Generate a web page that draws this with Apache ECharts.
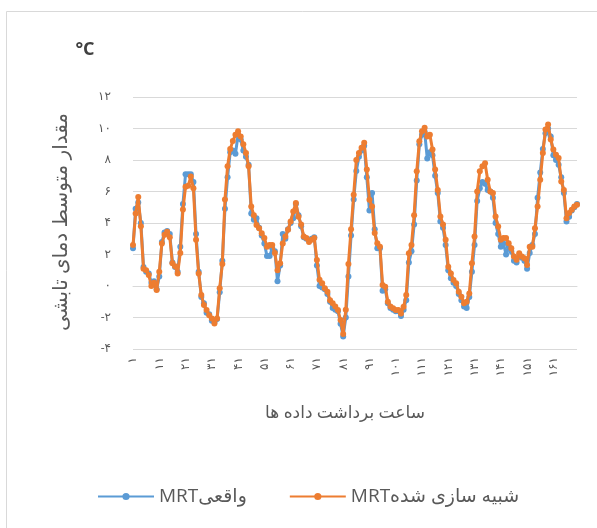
<!DOCTYPE html>
<html>
<head>
<meta charset="utf-8">
<script src="https://cdn.jsdelivr.net/npm/echarts@6/dist/echarts.min.js"></script>
<style>
html,body{margin:0;padding:0;background:#fff;}
#chart{width:597px;height:528px;}
</style>
</head>
<body>
<div id="chart"></div>
<script>
// ---- data ----
function toFa(v) {
  var s = String(v);
  var neg = s.charAt(0) === '-';
  if (neg) s = s.slice(1);
  s = s.replace(/\d/g, function (d) { return '۰۱۲۳۴۵۶۷۸۹'[+d]; });
  return (neg ? '-' : '') + s;
}

var categories = [];
for (var k = 1; k <= 170; k++) categories.push(toFa(k));
var xLabelEvery = 10;

var seriesNames = ['MRTواقعی', 'MRTشبیه سازی شده'];

var actualMRT = [
  2.4, 4.9, 5.3, 4.0, 1.2, 0.9, 0.8, 0.2, 0.3, -0.2,
  0.6, 2.8, 3.4, 3.5, 3.3, 1.5, 1.2, 0.9, 2.5, 5.2,
  7.1, 7.1, 7.1, 6.6, 3.3, 0.9, -0.7, -1.1, -1.7, -1.8,
  -2.2, -2.3, -2.1, -0.4, 1.6, 4.9, 6.9, 8.5, 8.6, 8.4,
  9.6, 9.3, 8.6, 8.2, 7.7, 4.6, 4.2, 4.3, 3.7, 3.2,
  2.7, 1.9, 1.9, 2.4, 2.2, 0.3, 1.3, 3.3, 3.0, 3.6,
  4.0, 4.3, 5.2, 4.5, 3.8, 3.1, 3.0, 2.9, 3.0, 3.1,
  1.3, 0.0, -0.1, -0.2, -0.5, -1.0, -1.4, -1.5, -1.6, -2.4,
  -3.2, -2.0, 0.6, 3.2, 5.5, 7.3, 8.2, 8.6, 8.9, 6.9,
  4.8, 5.9, 3.6, 2.4, 2.4, -0.3, -0.2, -1.1, -1.4, -1.5,
  -1.6, -1.6, -1.9, -1.5, -0.9, 1.5, 2.2, 3.9, 6.7, 9.0,
  9.6, 9.8, 8.1, 8.5, 8.3, 7.0, 5.9, 4.1, 3.7, 2.6,
  1.0, 0.5, 0.2, 0.0, -0.5, -0.9, -1.3, -1.4, -0.7, 0.9,
  2.6, 5.4, 6.2, 6.6, 6.5, 6.1, 6.0, 5.6, 4.0, 3.3,
  2.5, 2.7, 2.0, 2.5, 2.2, 1.6, 1.5, 1.9, 1.8, 1.6,
  1.1, 2.1, 2.6, 3.3, 5.6, 7.2, 8.7, 9.7, 10.0, 9.5,
  8.3, 8.0, 7.7, 6.9, 5.9, 4.1, 4.4, 4.8, 5.0, 5.2
];

var simulatedMRT = [
  2.6, 4.6, 5.65, 3.8, 1.1, 1.0, 0.7, 0.0, 0.2, -0.25,
  0.9, 2.7, 3.25, 3.45, 3.1, 1.45, 1.25, 0.8, 2.1, 4.85,
  6.3, 6.36, 6.95, 6.2, 2.93, 0.8, -0.57, -1.2, -1.53, -1.85,
  -2.06, -2.38, -2.06, -0.14, 1.4, 5.5, 7.6, 8.7, 9.2, 9.6,
  9.83, 9.5, 9.0, 8.45, 7.6, 5.05, 4.5, 3.88, 3.67, 3.35,
  3.04, 2.5, 2.6, 2.6, 2.1, 1.0, 1.44, 2.7, 3.14, 3.57,
  4.1, 4.73, 5.27, 4.4, 3.9, 3.14, 3.04, 2.8, 2.93, 3.04,
  1.65, 0.4, 0.17, -0.15, -0.36, -0.9, -1.1, -1.3, -1.53, -2.16,
  -3.05, -1.5, 1.4, 3.6, 5.8, 8.0, 8.45, 8.77, 9.09, 7.39,
  5.48, 5.05, 3.36, 2.72, 2.5, 0.06, -0.04, -1.0, -1.3, -1.42,
  -1.53, -1.53, -1.74, -1.32, -0.57, 2.08, 2.6, 4.5, 7.28, 9.19,
  9.83, 10.04, 9.5, 9.6, 8.66, 7.39, 6.1, 4.41, 3.9, 2.93,
  1.23, 0.8, 0.38, 0.17, -0.36, -0.68, -1.1, -1.0, -0.47, 1.45,
  3.14, 6.0, 7.28, 7.6, 7.8, 6.75, 6.0, 5.9, 4.41, 3.78,
  2.93, 3.04, 3.04, 2.72, 2.4, 1.87, 1.66, 2.08, 1.87, 1.76,
  1.34, 2.5, 2.5, 3.67, 5.05, 6.75, 8.45, 9.94, 10.25, 9.3,
  8.66, 8.34, 8.13, 6.64, 6.1, 4.3, 4.63, 4.84, 5.05, 5.16
];

var yTicks = { min: -4, max: 12, step: 2 };
var unitLabel = '°C';
var yAxisTitle = 'مقدار متوسط دمای تابشی';
var xAxisTitle = 'ساعت برداشت داده ها';

var FONT = '"Open Sans","DejaVu Sans",sans-serif';
var TXT = '#595959';
var BLUE = '#5B9BD5';
var ORANGE = '#ED7D31';

var chart = echarts.init(document.getElementById('chart'), null, { renderer: 'canvas' });

var staticGraphics = [
  {
    type: 'rect', silent: true, z: -10,
    shape: { x: 6.5, y: 11.5, width: 700, height: 700 },
    style: { fill: 'none', stroke: '#d9d9d9', lineWidth: 1 }
  },
  {
    type: 'text', x: 85, y: 50,
    style: { text: unitLabel, fill: '#404040', font: 'bold 18px ' + FONT, textAlign: 'center', textVerticalAlign: 'middle' }
  },
  {
    type: 'text', x: 61, y: 222, rotation: Math.PI / 2,
    style: { text: yAxisTitle, fill: TXT, font: '20px ' + FONT, textAlign: 'center', textVerticalAlign: 'middle' }
  },
  {
    type: 'text', x: 345, y: 413,
    style: { text: xAxisTitle, fill: TXT, font: '17px ' + FONT, textAlign: 'center', textVerticalAlign: 'middle' }
  }
];

chart.setOption({
  animation: false,
  backgroundColor: '#fff',
  grid: { left: 133, right: 20, top: 97, bottom: 179, containLabel: false },
  legend: {
    left: 92, top: 482,
    itemWidth: 56, itemHeight: 9, itemGap: 42,
    textStyle: { color: TXT, fontSize: 19, fontFamily: FONT },
    data: seriesNames
  },
  xAxis: {
    type: 'category',
    data: categories,
    boundaryGap: false,
    axisLine: { show: true, lineStyle: { color: '#d9d9d9', width: 1 } },
    axisTick: { show: false },
    axisLabel: { show: false },
    splitLine: { show: false }
  },
  yAxis: {
    type: 'value',
    min: yTicks.min, max: yTicks.max, interval: yTicks.step,
    axisLine: { show: false },
    axisTick: { show: false },
    axisLabel: {
      margin: 22,
      color: TXT,
      fontSize: 12,
      fontFamily: FONT,
      formatter: function (v) { return toFa(v); }
    },
    splitLine: { show: true, lineStyle: { color: '#d9d9d9', width: 1 } }
  },
  graphic: staticGraphics,
  series: [
    {
      name: seriesNames[0], type: 'line', data: actualMRT,
      symbol: 'circle', symbolSize: 6, showAllSymbol: true,
      lineStyle: { color: BLUE, width: 3 },
      itemStyle: { color: BLUE },
      z: 2
    },
    {
      name: seriesNames[1], type: 'line', data: simulatedMRT,
      symbol: 'circle', symbolSize: 6, showAllSymbol: true,
      lineStyle: { color: ORANGE, width: 3 },
      itemStyle: { color: ORANGE },
      z: 3
    }
  ]
});

// rotated category labels (bottom-to-top), placed through the axis scale
var axisY = chart.convertToPixel({ yAxisIndex: 0 }, yTicks.min);
var labelGraphics = [];
for (var i = 0; i < categories.length; i += xLabelEvery) {
  var px = chart.convertToPixel({ xAxisIndex: 0 }, i);
  labelGraphics.push({
    type: 'text', x: px, y: axisY + 8, rotation: Math.PI / 2, silent: true,
    style: { text: categories[i], fill: TXT, font: '12px ' + FONT, textAlign: 'right', textVerticalAlign: 'middle' }
  });
}
chart.setOption({ graphic: staticGraphics.concat(labelGraphics) });
</script>
</body>
</html>
